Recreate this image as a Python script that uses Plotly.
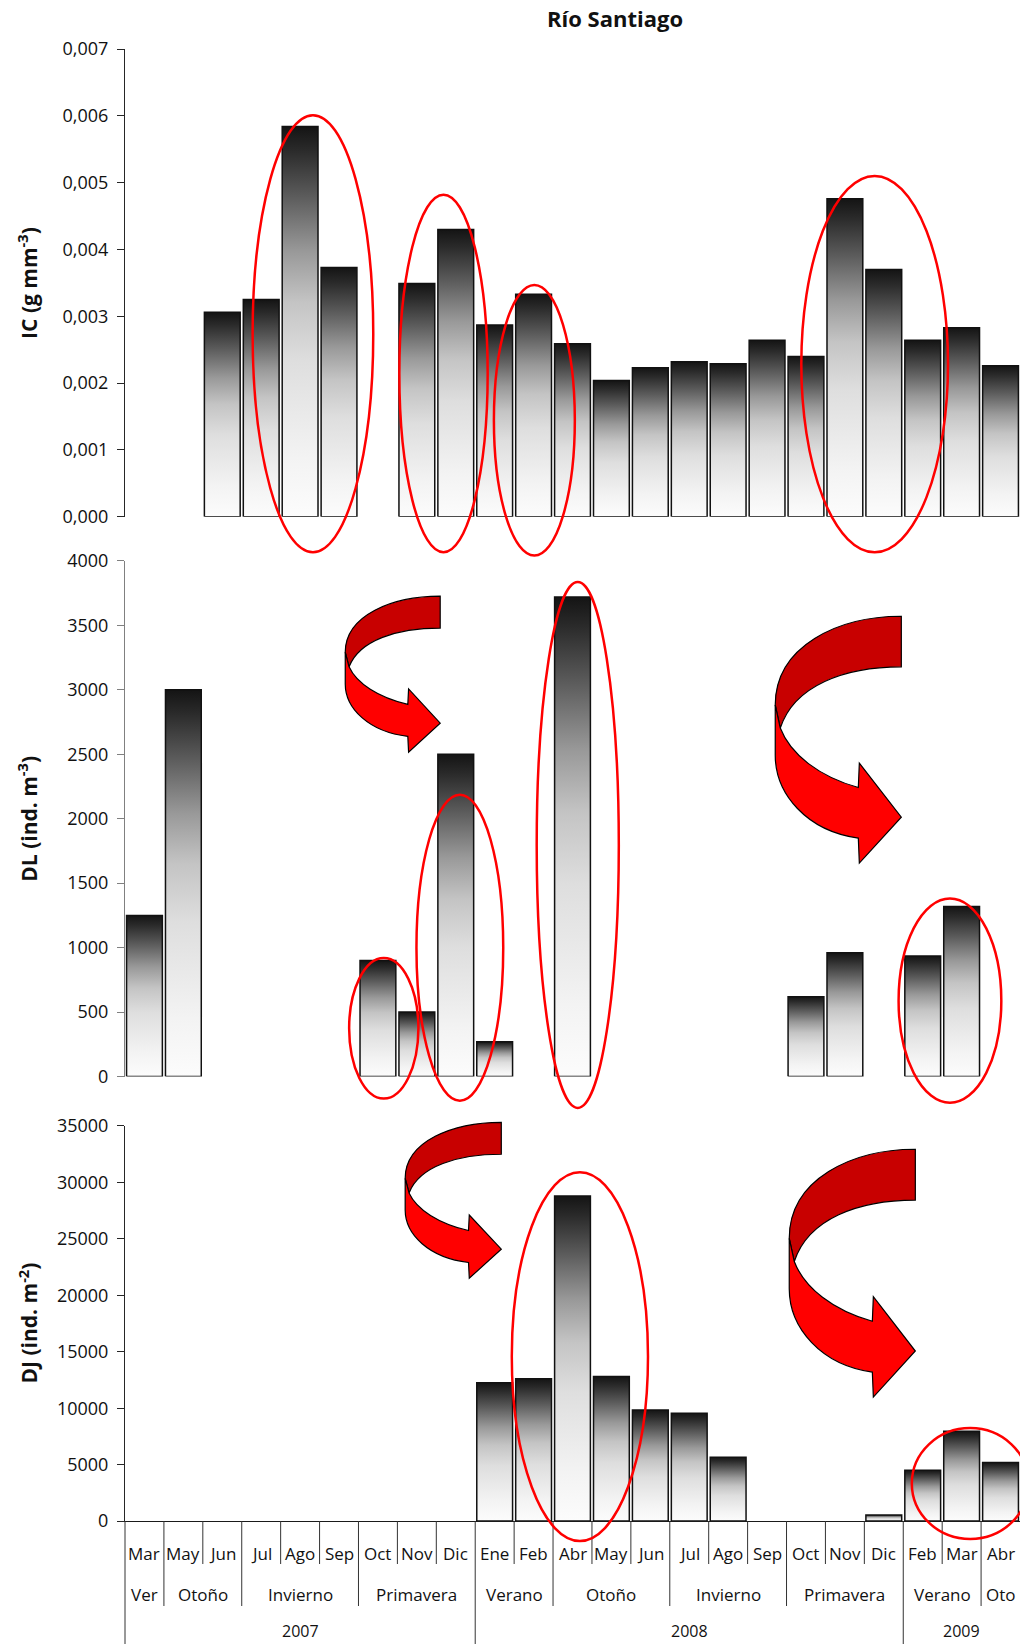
import plotly.graph_objects as go

# ---------------------------------------------------------------- data
months = ["Mar", "May", "Jun", "Jul", "Ago", "Sep", "Oct", "Nov", "Dic",
          "Ene", "Feb", "Abr", "May", "Jun", "Jul", "Ago", "Sep", "Oct", "Nov", "Dic",
          "Feb", "Mar", "Abr"]

season_names = ["Ver", "Otoño", "Invierno", "Primavera", "Verano",
                "Otoño", "Invierno", "Primavera", "Verano", "Oto"]
season_first = [0, 1, 3, 6, 9, 11, 14, 17, 20, 22]
season_last = [0, 2, 5, 8, 10, 13, 16, 19, 21, 22]

year_names = ["2007", "2008", "2009"]
year_first = [0, 9, 20]
year_last = [8, 19, 22]

# IC (g mm-3)
ic = [None, None, 0.00306, 0.00325, 0.00584, 0.00373, None, 0.00349, 0.00430,
      0.00287, 0.00333, 0.00259, 0.00204, 0.00223, 0.00232, 0.00229, 0.00264,
      0.00240, 0.00476, 0.00370, 0.00264, 0.00283, 0.00226]

# DL (ind. m-3)
dl = [1250, 3000, None, None, None, None, 900, 500, 2500,
      270, None, 3720, None, None, None, None, None, 620, 960, None,
      935, 1320, None]

# DJ (ind. m-2)
dj = [None, None, None, None, None, None, None, None, None,
      12250, 12600, 28800, 12800, 9850, 9550, 5650, None, None, None, 550,
      4500, 7950, 5200]

ic_ticks = [0, 0.001, 0.002, 0.003, 0.004, 0.005, 0.006, 0.007]
dl_ticks = [0, 500, 1000, 1500, 2000, 2500, 3000, 3500, 4000]
dj_ticks = [0, 5000, 10000, 15000, 20000, 25000, 30000, 35000]

# ---------------------------------------------------------------- geometry
W, H = 1020, 1644
X_LEFT, X_RIGHT = 125, 1020
N = len(months)
CW = (X_RIGHT - X_LEFT) / N

# panel: (top px, bottom px, max value)
PANELS = {
    1: (49.0, 516.8, 0.007),
    2: (560.8, 1076.6, 4000),
    3: (1125.9, 1521.1, 35000),
}

FONT = "'Open Sans', Lato, sans-serif"
RED = "#ff0000"


def xpx(xi):
    return X_LEFT + (xi + 0.5) * CW


def ypx(panel, v):
    top, bot, vmax = PANELS[panel]
    return bot - v / vmax * (bot - top)


def px(x):
    return x / W


def py(y):
    return 1 - y / H


GRAD = [[0.0, "#fcfcfc"], [0.15, "#f3f3f3"], [0.4, "#dedede"], [0.55, "#c4c4c4"],
        [0.68, "#999999"], [0.82, "#5c5c5c"], [0.94, "#2a2a2a"], [1.0, "#141414"]]

fig = go.Figure()

# ---------------------------------------------------------------- bars
HW = 0.46
for panel, series in ((1, ic), (2, dl), (3, dj)):
    xa = "x" if panel == 1 else f"x{panel}"
    ya = "y" if panel == 1 else f"y{panel}"
    for i, v in enumerate(series):
        if v is None:
            continue
        fig.add_trace(go.Scatter(
            x=[i - HW, i - HW, i + HW, i + HW, i - HW],
            y=[0, v, v, 0, 0],
            mode="lines",
            fill="toself",
            fillgradient=dict(type="vertical", colorscale=GRAD, start=0, stop=v),
            line=dict(color="#111111", width=1.5),
            xaxis=xa, yaxis=ya,
            showlegend=False,
            hoverinfo="text",
            text=f"{months[i]}: {v}",
        ))

# ---------------------------------------------------------------- axes
def fmt_ic(t):
    return f"{t:.3f}".replace(".", ",")


axis_common = dict(showgrid=False, zeroline=False, ticks="outside", ticklen=7,
                   tickwidth=1, showline=True, linewidth=1, automargin=False,
                   ticklabelstandoff=5,
                   tickfont=dict(family=FONT, size=18, color="#111111"))

layout = dict(
    width=W, height=H, autosize=False,
    margin=dict(l=0, r=0, t=0, b=0, pad=0, autoexpand=False),
    paper_bgcolor="white", plot_bgcolor="white",
    showlegend=False,
    font=dict(family=FONT, color="#111111"),
)

tick_sets = {1: (ic_ticks, [fmt_ic(t) for t in ic_ticks]),
             2: (dl_ticks, [str(t) for t in dl_ticks]),
             3: (dj_ticks, [str(t) for t in dj_ticks])}
line_colors = {1: "#262626", 2: "#808080", 3: "#262626"}

for panel in (1, 2, 3):
    top, bot, vmax = PANELS[panel]
    sfx = "" if panel == 1 else str(panel)
    layout[f"xaxis{sfx}"] = dict(
        domain=[px(X_LEFT), px(X_RIGHT)], range=[-0.5, N - 0.5],
        anchor=f"y{sfx}", showgrid=False, zeroline=False, automargin=False,
        showticklabels=False, ticks="",
        showline=(panel == 3), linecolor="#1a1a1a", linewidth=1.2,
    )
    vals, texts = tick_sets[panel]
    layout[f"yaxis{sfx}"] = dict(
        domain=[py(bot), py(top)], range=[0, vmax], anchor=f"x{sfx}",
        tickvals=vals, ticktext=texts, linecolor=line_colors[panel],
        tickcolor=line_colors[panel], **axis_common,
    )

fig.update_layout(**layout)

# ---------------------------------------------------------------- text
annotations = [dict(
    text="<b>Río Santiago</b>", x=px(615), y=py(18), xref="paper", yref="paper",
    showarrow=False, font=dict(family=FONT, size=22, color="#111111"),
    xanchor="center", yanchor="middle")]

ytitles = {1: "<b>IC (g mm<sup>-3</sup>)</b>",
           2: "<b>DL (ind. m<sup>-3</sup>)</b>",
           3: "<b>DJ (ind. m<sup>-2</sup>)</b>"}
for panel, txt in ytitles.items():
    top, bot, _ = PANELS[panel]
    annotations.append(dict(
        text=txt, x=px(28), y=py((top + bot) / 2), xref="paper", yref="paper",
        textangle=-90, showarrow=False, xanchor="center", yanchor="middle",
        font=dict(family=FONT, size=21, color="#111111")))

ROW_MONTH, ROW_SEASON, ROW_YEAR = 1553, 1594, 1631
lab_font = dict(family=FONT, size=17, color="#111111")
year_font = dict(family=FONT, size=16, color="#111111")
for i, m in enumerate(months):
    annotations.append(dict(text=m, x=px(xpx(i)), y=py(ROW_MONTH), xref="paper",
                            yref="paper", showarrow=False, font=lab_font,
                            xanchor="center", yanchor="middle"))
for name, a, b in zip(season_names, season_first, season_last):
    annotations.append(dict(text=name, x=px(xpx((a + b) / 2)), y=py(ROW_SEASON),
                            xref="paper", yref="paper", showarrow=False,
                            font=lab_font, xanchor="center", yanchor="middle"))
for name, a, b in zip(year_names, year_first, year_last):
    annotations.append(dict(text=name, x=px(xpx((a + b) / 2)), y=py(ROW_YEAR),
                            xref="paper", yref="paper", showarrow=False,
                            font=year_font, xanchor="center", yanchor="middle"))

# ---------------------------------------------------------------- shapes
shapes = []
axis_y = PANELS[3][1]

# category dividers under the bottom axis: month / season / year levels
for b in range(0, N):
    xb = X_LEFT + b * CW
    if b in year_first:
        y_end = H
    elif b in season_first:
        y_end = 1606
    else:
        y_end = 1564
    shapes.append(dict(type="line", xref="paper", yref="paper",
                       x0=px(xb), x1=px(xb), y0=py(axis_y), y1=py(y_end),
                       line=dict(color="#333333", width=1)))

# highlight ellipses: (panel, x from, x to, value low, value high)
ellipses = [
    (1, 2.78, 5.88, -0.00053, 0.00601),
    (1, 6.55, 8.82, -0.00053, 0.00482),
    (1, 8.98, 11.06, -0.00058, 0.00347),
    (1, 16.88, 20.65, -0.00053, 0.00510),
    (2, 5.26, 7.04, -170, 919),
    (2, 6.99, 9.22, -187, 2186),
    (2, 10.08, 12.19, -243, 3836),
    (2, 19.38, 22.02, -203, 1381),
    (3, 9.44, 12.94, -1760, 30900),
    (3, 19.72, 22.72, -1580, 8240),
]
for panel, xa, xb_, v0, v1 in ellipses:
    shapes.append(dict(type="circle", xref="paper", yref="paper",
                       x0=px(X_LEFT + (xa + 0.5) * CW), x1=px(X_LEFT + (xb_ + 0.5) * CW),
                       y0=py(ypx(panel, v0)), y1=py(ypx(panel, v1)),
                       line=dict(color=RED, width=2.5), fillcolor="rgba(0,0,0,0)"))

# curved ribbon arrows: (panel, x from, x to, value top, value bottom)
arrows = [
    (2, 5.16, 7.60, 3726, 2516),
    (2, 16.21, 19.45, 3570, 1656),
    (3, 6.70, 9.17, 35320, 21510),
    (3, 16.57, 19.81, 32930, 10980),
]


def arrow_paths(panel, xa, xb_, vtop, vbot):
    left, right = X_LEFT + (xa + 0.5) * CW, X_LEFT + (xb_ + 0.5) * CW
    top, bot = ypx(panel, vtop), ypx(panel, vbot)

    def p(u, v):
        return f"{px(left + u * (right - left)):.5f},{py(top + v * (bot - top)):.5f}"

    back = (f"M{p(1, 0)} C{p(0.5, 0)} {p(0, 0.12)} {p(0, 0.36)} "
            f"L{p(0.04, 0.453)} C{p(0.15, 0.28)} {p(0.55, 0.205)} {p(1, 0.205)} Z")
    front = (f"M{p(0, 0.36)} L{p(0, 0.563)} C{p(0, 0.72)} {p(0.25, 0.87)} {p(0.659, 0.899)} "
             f"L{p(0.667, 1.0)} L{p(1, 0.814)} L{p(0.667, 0.595)} L{p(0.659, 0.694)} "
             f"C{p(0.35, 0.65)} {p(0.12, 0.56)} {p(0.04, 0.453)} Z")
    return back, front


for a in arrows:
    back, front = arrow_paths(*a)
    shapes.append(dict(type="path", xref="paper", yref="paper", path=back,
                       fillcolor="#c80000", line=dict(color="#000000", width=1.2)))
    shapes.append(dict(type="path", xref="paper", yref="paper", path=front,
                       fillcolor="#ff0000", line=dict(color="#000000", width=1.2)))

fig.update_layout(annotations=annotations, shapes=shapes)

fig.write_html("out.html")
